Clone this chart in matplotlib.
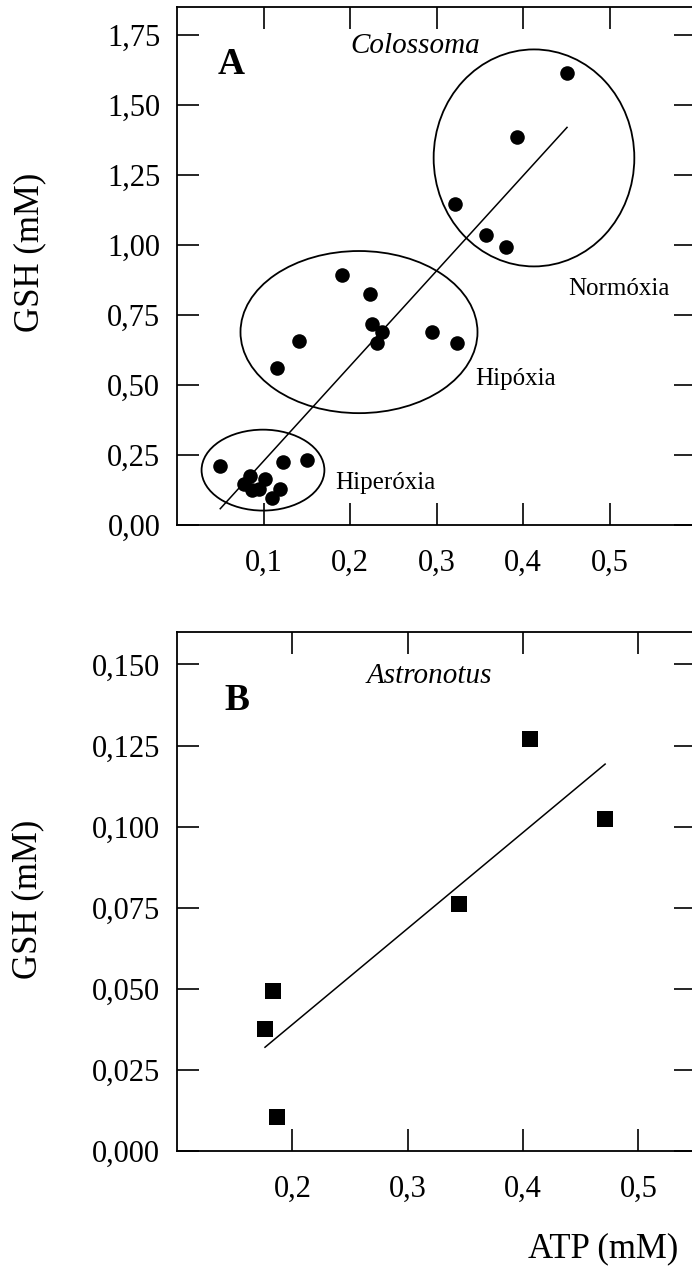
import numpy as np
import matplotlib
matplotlib.use("Agg")
import matplotlib.pyplot as plt
from matplotlib.patches import Ellipse
from matplotlib.ticker import FuncFormatter

plt.rcParams['font.family'] = ['Liberation Serif', 'DejaVu Serif']

# Colossoma: ATP vs GSH (mM)
atp_a = [0.050, 0.1225, 0.150, 0.0848, 0.1014, 0.0775, 0.0867, 0.0948, 0.1195, 0.1095,
         0.1908, 0.2235, 0.2258, 0.237, 0.2312, 0.2944, 0.324, 0.141, 0.1152,
         0.321, 0.3576, 0.4509, 0.3927, 0.3803]
gsh_a = [0.212, 0.224, 0.232, 0.176, 0.164, 0.145, 0.125, 0.130, 0.129, 0.095,
         0.893, 0.825, 0.718, 0.688, 0.650, 0.688, 0.651, 0.658, 0.562,
         1.145, 1.035, 1.613, 1.386, 0.994]
fit_a = (3.397, -0.1117)   # slope, intercept

# Astronotus
atp_b = [0.4064, 0.4712, 0.3443, 0.1833, 0.1763, 0.187]
gsh_b = [0.1271, 0.1022, 0.0763, 0.0494, 0.0375, 0.0106]
fit_b = (0.296, -0.0202)

# groups: name, centre (x, y), width, height, label position
groups = [
    ("Normóxia", (0.4127, 1.311), 0.232, 0.775, (0.452, 0.821)),
    ("Hipóxia", (0.2104, 0.689), 0.274, 0.579, (0.3445, 0.50)),
    ("Hiperóxia", (0.0994, 0.196), 0.142, 0.289, (0.1827, 0.129)),
]

W, H = 692, 1268
fig = plt.figure(figsize=(W / 100, H / 100), dpi=100)

def comma(dec):
    return FuncFormatter(lambda v, p: f"{v:.{dec}f}".replace(".", ","))

def style(ax):
    for s in ax.spines.values():
        s.set_linewidth(1.3)
    ax.tick_params(direction='in', length=16, width=1.2, labelsize=22,
                   top=True, right=True)
    ax.tick_params(axis='y', pad=12)
    ax.tick_params(axis='x', pad=17)

# panel A
axA = fig.add_axes([177 / W, 1 - 525 / H, 519 / W, 518 / H])
axA.set_xlim(0, 0.6)
axA.set_ylim(0, 1.85)
axA.set_xticks([0.1, 0.2, 0.3, 0.4, 0.5])
axA.set_yticks(np.arange(0, 1.76, 0.25))
axA.xaxis.set_major_formatter(comma(1))
axA.yaxis.set_major_formatter(comma(2))
style(axA)
axA.scatter(atp_a, gsh_a, s=110, c='black', zorder=3, linewidths=0)
xa = np.array([min(atp_a), max(atp_a)])
axA.plot(xa, fit_a[0] * xa + fit_a[1], color='black', lw=1.1)
for name, c, w, h, pos in groups:
    axA.add_patch(Ellipse(c, w, h, fill=False, edgecolor='black', lw=1.3))
    axA.text(pos[0], pos[1], name, fontsize=18, ha='left', va='baseline')
axA.text(0.0624, 1.61, "A", fontsize=27, fontweight='bold', ha='center', va='baseline')
axA.text(0.276, 1.686, "Colossoma", fontsize=21, style='italic', ha='center', va='baseline')

# panel B
axB = fig.add_axes([177 / W, 1 - 1151 / H, 519 / W, 519 / H])
axB.set_xlim(0.1, 0.55)
axB.set_ylim(0, 0.16)
axB.set_xticks([0.2, 0.3, 0.4, 0.5])
axB.set_yticks(np.arange(0, 0.151, 0.025))
axB.xaxis.set_major_formatter(comma(1))
axB.yaxis.set_major_formatter(comma(3))
style(axB)
axB.scatter(atp_b, gsh_b, s=120, c='black', marker='s', zorder=3, linewidths=0)
xb = np.array([min(atp_b), max(atp_b)])
axB.plot(xb, fit_b[0] * xb + fit_b[1], color='black', lw=1.1)
axB.text(0.1516, 0.136, "B", fontsize=27, fontweight='bold', ha='center', va='baseline')
axB.text(0.3186, 0.1443, "Astronotus", fontsize=21, style='italic', ha='center', va='baseline')

fig.text(30 / W, 1 - 252 / H, "GSH (mM)", fontsize=25, rotation=90, ha='center', va='center')
fig.text(28 / W, 1 - 899 / H, "GSH (mM)", fontsize=25, rotation=90, ha='center', va='center')
fig.text(603 / W, 1 - 1249 / H, "ATP (mM)", fontsize=25, ha='center', va='center')

fig.savefig("out.png", dpi=100)
